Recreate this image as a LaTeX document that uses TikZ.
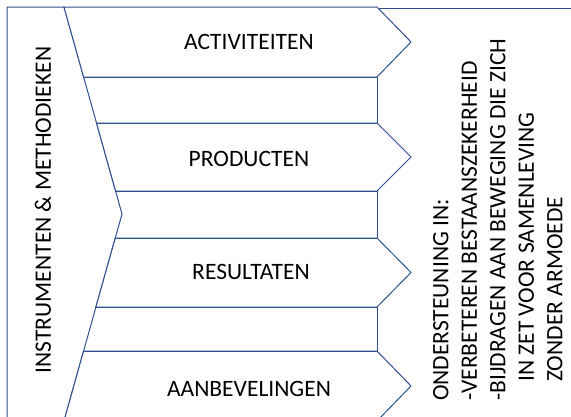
\documentclass[tikz,border=0pt]{standalone}
\usepackage{fontspec}
\setmainfont{Carlito}
\definecolor{edgeblue}{HTML}{2F528F}
\begin{document}
\begin{tikzpicture}[x=1pt,y=-1pt,
  shapeline/.style={draw=edgeblue,line width=1pt,fill=white,line join=miter},
  linkline/.style={draw=edgeblue,line width=1pt},
  lbl/.style={font=\fontsize{23.5}{28.5}\selectfont,text=black,inner sep=0pt}]
\useasboundingbox (0,0) rectangle (571,416);
\fill[white] (0,0) rectangle (571,416);
\clip (0,0) rectangle (571,416);
% background frame
\draw[shapeline] (7,8) rectangle (600,440);
% left chevron
\draw[shapeline] (7,7) -- (64,7) -- (122,214) -- (64,421) -- (7,421) -- cycle;
% chevrons
\draw[shapeline] (64,7) -- (377,7) -- (411,42) -- (377,77) -- (83.6,77) -- cycle;
\draw[shapeline] (96.5,123) -- (377,123) -- (411,157) -- (377,191) -- (115.6,191) -- cycle;
\draw[shapeline] (115.3,238) -- (377,238) -- (411,272.5) -- (377,307) -- (95.9,307) -- cycle;
\draw[shapeline] (83.6,351) -- (377,351) -- (411,386) -- (377,421) -- (64,421) -- cycle;
% lines between chevrons
\draw[linkline] (83.6,77) -- (377,77) -- (377,123) -- (96.5,123);
\draw[linkline] (115.6,191) -- (377,191) -- (377,238) -- (115.3,238);
\draw[linkline] (95.9,307) -- (377,307) -- (377,351) -- (83.6,351);
% labels
\node[lbl] (act) at (249,42) {ACTIVITEITEN};
\node[lbl] (prod) at (249,159) {PRODUCTEN};
\node[lbl] (res) at (251,272) {RESULTATEN};
\node[lbl] (aanb) at (249,389) {AANBEVELINGEN};
\node[lbl,rotate=90] (instr) at (43,210) {INSTRUMENTEN \& METHODIEKEN};
\node[lbl,rotate=90,anchor=north west,align=left] (onder) at (433,401)
  {ONDERSTEUNING IN:\\
   -VERBETEREN BESTAANSZEKERHEID\\
   -BIJDRAGEN AAN BEWEGING DIE ZICH\\
   \hspace*{19pt}IN ZET VOOR SAMENLEVING\\
   \hspace*{19pt}ZONDER ARMOEDE};
\end{tikzpicture}
\end{document}
